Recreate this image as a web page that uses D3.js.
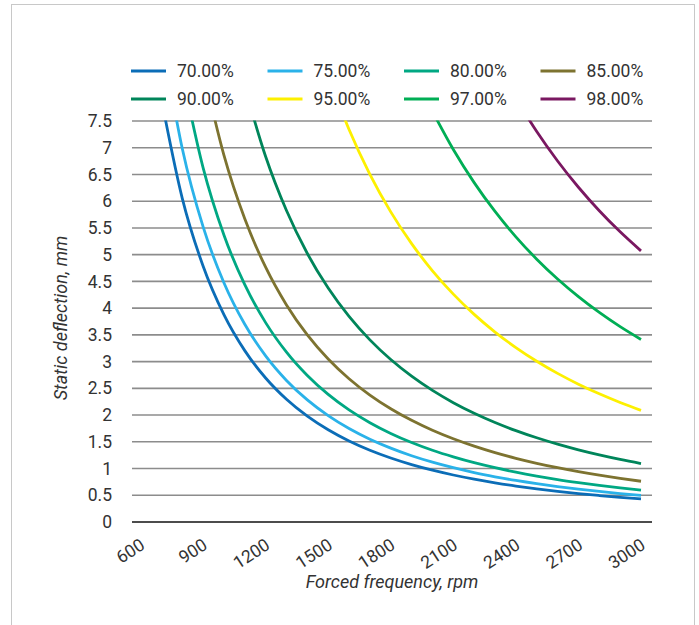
<!DOCTYPE html>
<html><head><meta charset="utf-8">
<script src="https://cdn.jsdelivr.net/npm/d3@7"></script>
<style>
body{margin:0;background:#fff;}
svg{display:block;font-family:Roboto,"Noto Sans",sans-serif;}
</style></head>
<body>
<svg id="chart" width="699" height="625"></svg>
<script>
// ---- data ----
const seriesNames = ["70.00%","75.00%","80.00%","85.00%","90.00%","95.00%","97.00%","98.00%"];
const seriesColors = ["#0b6db7","#2ab2e9","#00a883","#7d7330","#00855a","#fdf000","#00ae55","#7a1861"];
const xTicks = [600,900,1200,1500,1800,2100,2400,2700,3000];
const yTicks = [0,0.5,1,1.5,2,2.5,3,3.5,4,4.5,5,5.5,6,6.5,7,7.5];

const freq70 = [700,800,900,1000,1100,1200,1300,1400,1500,1600,1700,1800,1900,2000,2100,2200,2300,2400,2500,2600,2700,2800,2900,3000];
const defl70 = [7.914,6.059,4.788,3.878,3.205,2.693,2.295,1.979,1.724,1.515,1.342,1.197,1.074,0.969,0.879,0.801,0.733,0.673,0.620,0.574,0.532,0.495,0.461,0.431];
const freq75 = freq70;
const defl75 = [9.13,6.99,5.524,4.475,3.698,3.107,2.648,2.283,1.989,1.748,1.548,1.381,1.239,1.119,1.015,0.924,0.846,0.777,0.716,0.662,0.614,0.571,0.532,0.497];
const freq80 = [800,900,1000,1100,1200,1300,1400,1500,1600,1700,1800,1900,2000,2100,2200,2300,2400,2500,2600,2700,2800,2900,3000];
const defl80 = [8.39,6.629,5.369,4.438,3.729,3.177,2.740,2.386,2.097,1.858,1.657,1.487,1.342,1.218,1.109,1.015,0.932,0.859,0.794,0.737,0.685,0.638,0.597];
const freq85 = [900,1000,1100,1200,1300,1400,1500,1600,1700,1800,1900,2000,2100,2200,2300,2400,2500,2600,2700,2800,2900,3000];
const defl85 = [8.470,6.861,5.670,4.765,4.060,3.500,3.049,2.680,2.374,2.118,1.901,1.715,1.556,1.418,1.297,1.191,1.098,1.015,0.941,0.875,0.816,0.762];
const freq90 = [1100,1200,1300,1400,1500,1600,1700,1800,1900,2000,2100,2200,2300,2400,2500,2600,2700,2800,2900,3000];
const defl90 = [8.136,6.836,5.825,5.022,4.375,3.845,3.406,3.038,2.727,2.461,2.232,2.034,1.861,1.709,1.575,1.456,1.350,1.256,1.171,1.094];
const freq95 = [1500,1600,1700,1800,1900,2000,2100,2200,2300,2400,2500,2600,2700,2800,2900,3000];
const defl95 = [8.353,7.341,6.503,5.800,5.206,4.698,4.262,3.883,3.553,3.263,3.007,2.780,2.578,2.397,2.235,2.088];
const freq97 = [2000,2100,2200,2300,2400,2500,2600,2700,2800,2900,3000];
const defl97 = [7.681,6.967,6.348,5.808,5.334,4.916,4.545,4.215,3.919,3.653,3.414];
const freq98 = [2400,2500,2600,2700,2800,2900,3000];
const defl98 = [7.924,7.303,6.752,6.261,5.822,5.427,5.071];

const allFreq = [freq70,freq75,freq80,freq85,freq90,freq95,freq97,freq98];
const allDefl = [defl70,defl75,defl80,defl85,defl90,defl95,defl97,defl98];

// ---- layout ----
const svg = d3.select("#chart");
const plotL = 132, plotR = 652, plotT = 121, plotB = 522;
const x = d3.scaleLinear().domain([600,3000]).range([140.5,641]);
const y = d3.scaleLinear().domain([0,7.5]).range([plotB,plotT]);
const FS = 17.5;

// outer frame
svg.append("rect").attr("x",11.5).attr("y",4.5).attr("width",683).attr("height",640)
  .attr("fill","none").attr("stroke","#c8c8c8").attr("stroke-width",1);

// gridlines
svg.append("g").selectAll("line").data(yTicks.filter(d=>d>0)).join("line")
  .attr("x1",plotL).attr("x2",plotR)
  .attr("y1",d=>y(d)).attr("y2",d=>y(d))
  .attr("stroke","#8c8c8c").attr("stroke-width",1.6);

// y axis labels
const yAxis = d3.axisLeft(y).tickValues(yTicks).tickSize(0).tickPadding(0).tickFormat(d3.format("~g"));
const gy = svg.append("g").attr("transform",`translate(112,0)`).call(yAxis);
gy.select(".domain").remove();
gy.selectAll("text").attr("font-size",FS).attr("fill","#333").attr("font-family","Roboto, sans-serif");

// x axis baseline
svg.append("line").attr("x1",plotL).attr("x2",plotR).attr("y1",plotB).attr("y2",plotB)
  .attr("stroke","#111").attr("stroke-width",1.6);

// x axis labels
const xAxis = d3.axisBottom(x).tickValues(xTicks).tickSize(0).tickPadding(0).tickFormat(d3.format("d"));
const gx = svg.append("g").attr("transform",`translate(0,${plotB})`).call(xAxis);
gx.select(".domain").remove();
gx.selectAll("text")
  .attr("font-size",FS).attr("fill","#333").attr("font-family","Roboto, sans-serif")
  .attr("text-anchor","end").attr("dy",null).attr("y",0)
  .attr("transform","translate(5,26) rotate(-33)");

// clip
svg.append("clipPath").attr("id","clip").append("rect")
  .attr("x",plotL).attr("y",plotT-0.5).attr("width",plotR-plotL).attr("height",plotB-plotT+1);

const line = d3.line().x(d=>x(d[0])).y(d=>y(d[1])).curve(d3.curveMonotoneX);
const gl = svg.append("g").attr("clip-path","url(#clip)");
seriesNames.forEach((n,i)=>{
  const pts = allFreq[i].map((f,j)=>[f,allDefl[i][j]]);
  gl.append("path").datum(pts).attr("d",line)
    .attr("fill","none").attr("stroke",seriesColors[i]).attr("stroke-width",2.8)
    .attr("stroke-linecap","butt");
});

// legend
const leg = svg.append("g");
seriesNames.forEach((n,i)=>{
  const col = i%4, row = Math.floor(i/4);
  const lx = 131 + col*136.5, ly = 71 + row*28;
  leg.append("line").attr("x1",lx).attr("x2",lx+35).attr("y1",ly).attr("y2",ly)
    .attr("stroke",seriesColors[i]).attr("stroke-width",3);
  leg.append("text").attr("x",lx+46).attr("y",ly).attr("dy","0.35em")
    .attr("font-size",FS).attr("fill","#333").text(n);
});

// axis titles
svg.append("text").attr("x",392).attr("y",588).attr("text-anchor","middle")
  .attr("font-size",18).attr("font-style","italic").attr("fill","#333")
  .text("Forced frequency, rpm");
svg.append("text").attr("transform","translate(67,318) rotate(-90)").attr("text-anchor","middle")
  .attr("font-size",18).attr("font-style","italic").attr("fill","#333")
  .text("Static deflection, mm");
</script>
</body></html>
